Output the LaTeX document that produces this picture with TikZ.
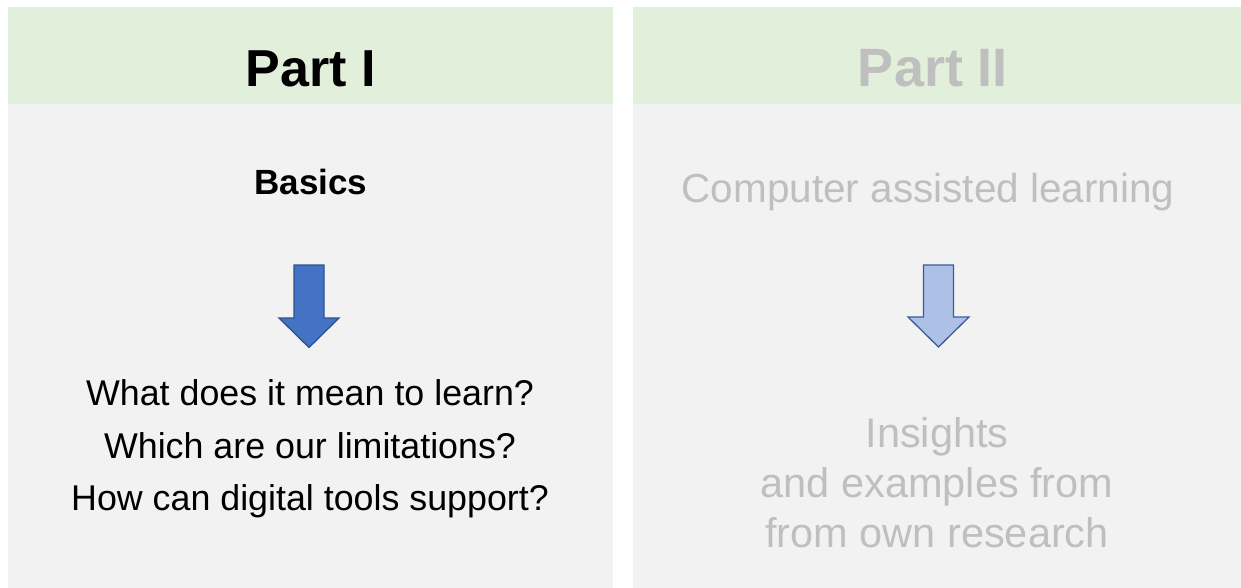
\documentclass[tikz,border=0pt]{standalone}
\usepackage{fontspec}
\setmainfont{Liberation Sans}
\definecolor{hdrgreen}{HTML}{E2EFDA}
\definecolor{bodygray}{HTML}{F2F2F2}
\definecolor{fadetext}{HTML}{BFBFBF}
\definecolor{arrowblue}{HTML}{4472C4}
\definecolor{arrowedge}{HTML}{2F528F}
\definecolor{arrowpale}{HTML}{ADC1E6}
\definecolor{arrowpaleedge}{HTML}{3A5C9C}
\begin{document}
\begin{tikzpicture}[x=1pt,y=-1pt,
  titletext/.style={anchor=base,inner sep=0pt,font=\fontsize{53}{60}\selectfont\bfseries},
  lefttext/.style={anchor=base,inner sep=0pt,font=\fontsize{35.8}{42}\selectfont,text=black},
  righttext/.style={anchor=base,inner sep=0pt,font=\fontsize{41.5}{48}\selectfont,text=fadetext},
  bluearrow/.style={fill=arrowblue,draw=arrowedge,line width=1.3pt,line join=miter},
  palearrow/.style={fill=arrowpale,draw=arrowpaleedge,line width=1.3pt,line join=miter}]
\useasboundingbox (0,0) rectangle (1241,588);
\fill[white] (0,0) rectangle (1241,588);
% panels
\fill[bodygray] (8,7) rectangle (613,588);
\fill[hdrgreen] (8,7) rectangle (613,104);
\fill[bodygray] (633,7) rectangle (1241,588);
\fill[hdrgreen] (633,7) rectangle (1241,104);
% left panel
\node[titletext,text=black,font=\fontsize{52}{60}\selectfont\bfseries] (p1) at (311,87) {Part I};
\node[lefttext,font=\fontsize{35}{42}\selectfont\bfseries] (basics) at (311,194) {Basics};
\draw[bluearrow] (294,265) -- (324,265) -- (324,318) -- (339,318) -- (309,347.5) -- (279,318) -- (294,318) -- cycle;
\node[lefttext] (q1) at (310,405) {What does it mean to learn?};
\node[lefttext] (q2) at (310,458) {Which are our limitations?};
\node[lefttext] (q3) at (310,510) {How can digital tools support?};
% right panel
\node[titletext,text=fadetext,font=\fontsize{54}{60}\selectfont\bfseries] (p2) at (933,87) {Part II};
\node[righttext,font=\fontsize{40.5}{48}\selectfont] (cal) at (928,202) {Computer assisted learning};
\draw[palearrow] (923.5,265) -- (953.5,265) -- (953.5,317) -- (969,317) -- (938.5,347) -- (908,317) -- (923.5,317) -- cycle;
\node[righttext] (r1) at (937,447) {Insights};
\node[righttext] (r2) at (937,497) {and examples from};
\node[righttext] (r3) at (937,547) {from own research};
\end{tikzpicture}
\end{document}
